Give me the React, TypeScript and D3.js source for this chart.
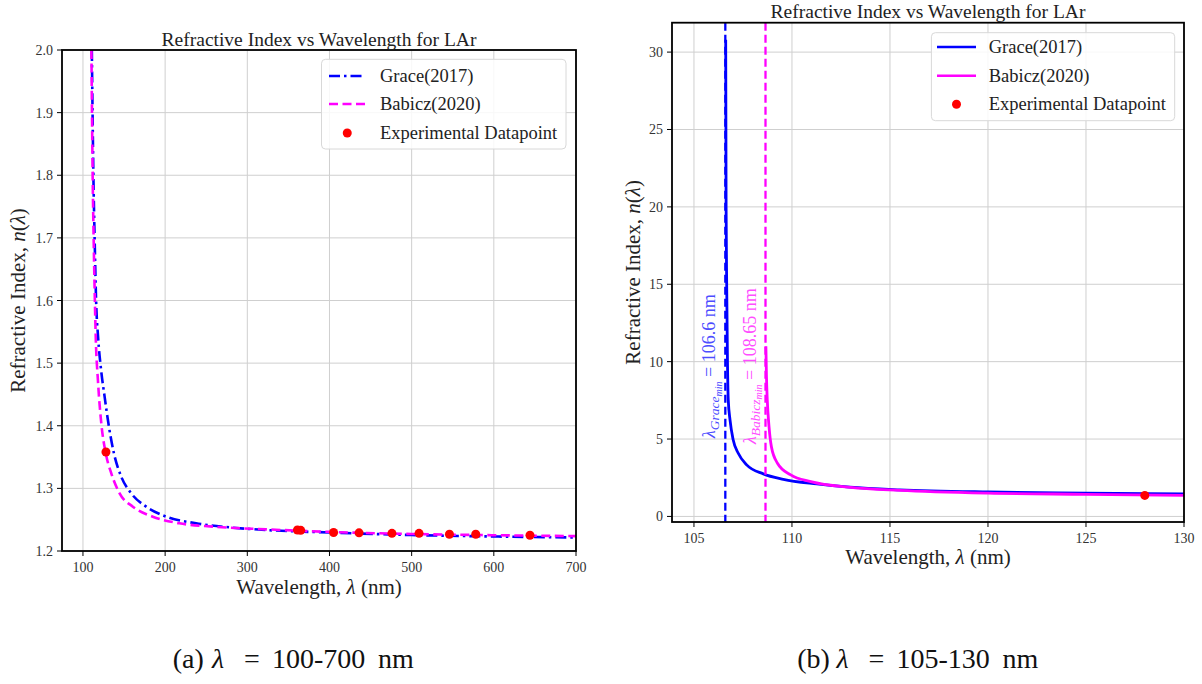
import React from 'react';
import * as d3 from 'd3';

const FONT = '"Liberation Serif", "DejaVu Serif", serif';

// ---------- Data: panel (a), 100-700 nm ----------
const graceLeftWl = [110.8, 111.7, 112.7, 114.2, 116.0, 118.5, 122.0, 126.4, 131.6, 137.7, 146.6, 158.7, 177, 201.3, 237.7, 278, 323, 400, 500, 600, 700];
const graceLeftN = [2.0, 1.9, 1.8, 1.7, 1.6, 1.54, 1.49, 1.446, 1.3985, 1.356, 1.3187, 1.2921, 1.2708, 1.2548, 1.2442, 1.2378, 1.2335, 1.2295, 1.2255, 1.2232, 1.2215];
const babiczLeftWl = [110.3, 111.0, 111.8, 113.0, 114.5, 115.6, 118.2, 122.3, 127.6, 134.5, 144.6, 160.7, 185, 217.4, 258, 323, 400, 500, 600, 700];
const babiczLeftN = [2.0, 1.9, 1.8, 1.7, 1.6, 1.54, 1.473, 1.404, 1.357, 1.324, 1.292, 1.2708, 1.2548, 1.2442, 1.2389, 1.2346, 1.2305, 1.2272, 1.2252, 1.2238];

// ---------- Data: panel (b), 105-130 nm ----------
const graceRightWl = [106.62, 106.64, 106.67, 106.71, 106.75, 106.84, 107.0, 107.26, 107.69, 108.54, 109.56, 111.26, 112.96, 115.5, 120, 125, 130];
const graceRightN = [30.8, 20, 15, 10, 7.53, 6.24, 4.95, 4.08, 3.33, 2.75, 2.40, 2.10, 1.89, 1.72, 1.58, 1.51, 1.46];
const babiczRightWl = [108.67, 108.7, 108.74, 108.83, 108.95, 109.26, 109.94, 110.96, 113, 115.5, 120, 125, 130];
const babiczRightN = [11.0, 9.0, 7.53, 5.8, 4.51, 3.44, 2.68, 2.25, 1.88, 1.68, 1.5, 1.43, 1.36];

// ---------- Experimental points ----------
const expWl = [128, 361, 365, 405, 436, 476, 509, 546, 578, 644];
const expN = [1.358, 1.2335, 1.233, 1.2295, 1.229, 1.2282, 1.2282, 1.2268, 1.2268, 1.2252];

// ---------- Pole wavelengths ----------
const graceMin = 106.6;
const babiczMin = 108.65;

// ---------- Ticks ----------
const leftXTicks = [100, 200, 300, 400, 500, 600, 700];
const leftYTicks = [1.2, 1.3, 1.4, 1.5, 1.6, 1.7, 1.8, 1.9, 2.0];
const rightXTicks = [105, 110, 115, 120, 125, 130];
const rightYTicks = [0, 5, 10, 15, 20, 25, 30];

const BLUE = '#0000ff';
const MAGENTA = '#ff00ff';

const zip = (a: number[], b: number[]) => a.map((v, i) => [v, b[i]] as [number, number]);

type PanelProps = {
  id: string;
  x: d3.ScaleLinear<number, number>;
  y: d3.ScaleLinear<number, number>;
  xTicks: number[];
  yTicks: number[];
  yFmt: (v: number) => string;
  title: string;
  titleY: number;
  yLabelX: number;
  xLabelY: number;
  children?: React.ReactNode;
};

function Panel({ id, x, y, xTicks, yTicks, yFmt, title, titleY, yLabelX, xLabelY, children }: PanelProps) {
  const [x0, x1] = x.range();
  const [y1, y0] = y.range();
  const cx = (x0 + x1) / 2;
  const cy = (y0 + y1) / 2;
  return (
    <g>
      <defs>
        <clipPath id={id}>
          <rect x={x0} y={y0} width={x1 - x0} height={y1 - y0} />
        </clipPath>
      </defs>
      {xTicks.map((t) => (
        <line key={'gx' + t} x1={x(t)} x2={x(t)} y1={y0} y2={y1} stroke="#cfcfcf" strokeWidth={1} />
      ))}
      {yTicks.map((t) => (
        <line key={'gy' + t} x1={x0} x2={x1} y1={y(t)} y2={y(t)} stroke="#cfcfcf" strokeWidth={1} />
      ))}
      <g clipPath={`url(#${id})`}>{children}</g>
      <rect x={x0} y={y0} width={x1 - x0} height={y1 - y0} fill="none" stroke="#000" strokeWidth={1.8} />
      {xTicks.map((t) => (
        <g key={'tx' + t}>
          <line x1={x(t)} x2={x(t)} y1={y1} y2={y1 + 5} stroke="#000" strokeWidth={1} />
          <text x={x(t)} y={y1 + 21} textAnchor="middle" fontSize={14} fill="#333" fontFamily={FONT}>
            {t}
          </text>
        </g>
      ))}
      {yTicks.map((t) => (
        <g key={'ty' + t}>
          <line x1={x0 - 5} x2={x0} y1={y(t)} y2={y(t)} stroke="#000" strokeWidth={1} />
          <text x={x0 - 9} y={y(t) + 5} textAnchor="end" fontSize={14} fill="#333" fontFamily={FONT}>
            {yFmt(t)}
          </text>
        </g>
      ))}
      <text x={cx} y={titleY} textAnchor="middle" fontSize={19.5} fill="#222" fontFamily={FONT}>
        {title}
      </text>
      <text x={cx} y={xLabelY} textAnchor="middle" fontSize={21} fill="#222" fontFamily={FONT}>
        Wavelength, <tspan fontStyle="italic">λ</tspan> (nm)
      </text>
      <text
        transform={`translate(${yLabelX},${cy}) rotate(-90)`}
        textAnchor="middle"
        fontSize={21}
        fill="#222"
        fontFamily={FONT}
      >
        Refractive Index, <tspan fontStyle="italic">n</tspan>(<tspan fontStyle="italic">λ</tspan>)
      </text>
    </g>
  );
}

type LegendProps = { x: number; y: number; w: number; h: number; rows: number[]; sample: [number, number]; textX: number; styles: ('dashdot' | 'dash' | 'solid')[] };

function Legend({ x, y, w, h, rows, sample, textX, styles }: LegendProps) {
  const labels = ['Grace(2017)', 'Babicz(2020)'];
  const colors = [BLUE, MAGENTA];
  const dashFor = (s: string) => (s === 'dashdot' ? '11,4,2.5,4' : s === 'dash' ? '9,4.5' : undefined);
  return (
    <g>
      <rect x={x} y={y} width={w} height={h} rx={4} fill="#fff" fillOpacity={0.85} stroke="#d8d8d8" strokeWidth={1} />
      {labels.map((lab, i) => (
        <g key={lab}>
          <line x1={sample[0]} x2={sample[1]} y1={rows[i]} y2={rows[i]} stroke={colors[i]} strokeWidth={2.6} strokeDasharray={dashFor(styles[i])} />
          <text x={textX} y={rows[i] + 6} fontSize={18.5} fill="#222" fontFamily={FONT}>
            {lab}
          </text>
        </g>
      ))}
      <circle cx={(sample[0] + sample[1]) / 2} cy={rows[2]} r={4.5} fill="#ff0000" />
      <text x={textX} y={rows[2] + 6} fontSize={18.5} fill="#222" fontFamily={FONT}>
        Experimental Datapoint
      </text>
    </g>
  );
}

function Caption({ dx, letter, range }: { dx: number; letter: string; range: string }) {
  const common = { y: 668, fontSize: 28, fill: '#111', fontFamily: FONT };
  return (
    <g>
      <text x={172.7 + dx} {...common}>({letter})</text>
      <text x={212 + dx} fontStyle="italic" {...common}>λ</text>
      <text x={244 + dx} {...common}>=</text>
      <text x={272 + dx} {...common}>{range}</text>
      <text x={378 + dx} {...common}>nm</text>
    </g>
  );
}

export default function App() {
  const xL = d3.scaleLinear().domain([74.5, 700]).range([62, 576]);
  const yL = d3.scaleLinear().domain([1.2, 2.0]).range([551, 50]);
  const xR = d3.scaleLinear().domain([103.88, 130]).range([672, 1184]);
  const yR = d3.scaleLinear().domain([-0.36, 31.9]).range([522, 22.7]);

  const lineL = d3
    .line<[number, number]>()
    .x((d) => xL(d[0]))
    .y((d) => yL(d[1]))
    .curve(d3.curveMonotoneX);
  const lineR = d3
    .line<[number, number]>()
    .x((d) => xR(d[0]))
    .y((d) => yR(d[1]))
    .curve(d3.curveMonotoneX);

  const exp = zip(expWl, expN);
  const [ryBottom, ryTop] = yR.range();

  return (
    <svg width={1202} height={684} style={{ position: 'absolute', left: 0, top: 0, background: '#fff' }}>
      <rect x={0} y={0} width={1202} height={684} fill="#fff" />
      <Panel
        id="clipL"
        x={xL}
        y={yL}
        xTicks={leftXTicks}
        yTicks={leftYTicks}
        yFmt={(v) => v.toFixed(1)}
        title="Refractive Index vs Wavelength for LAr"
        titleY={46}
        yLabelX={25}
        xLabelY={594}
      >
        <path d={lineL(zip(graceLeftWl, graceLeftN)) || ''} fill="none" stroke={BLUE} strokeWidth={2.6} strokeDasharray="11,4,2.5,4" />
        <path d={lineL(zip(babiczLeftWl, babiczLeftN)) || ''} fill="none" stroke={MAGENTA} strokeWidth={2.6} strokeDasharray="9,4.5" />
        {exp.map((d, i) => (
          <circle key={i} cx={xL(d[0])} cy={yL(d[1])} r={4.5} fill="#ff0000" />
        ))}
      </Panel>
      <Legend x={321.5} y={59.3} w={244.5} h={89.7} rows={[76, 104, 133]} sample={[329, 365.5]} textX={380} styles={['dashdot', 'dash', 'solid']} />

      <Panel
        id="clipR"
        x={xR}
        y={yR}
        xTicks={rightXTicks}
        yTicks={rightYTicks}
        yFmt={(v) => String(v)}
        title="Refractive Index vs Wavelength for LAr"
        titleY={18}
        yLabelX={640}
        xLabelY={564}
      >
        <path d={lineR(zip(graceRightWl, graceRightN)) || ''} fill="none" stroke={BLUE} strokeWidth={2.8} />
        <path d={lineR(zip(babiczRightWl, babiczRightN)) || ''} fill="none" stroke={MAGENTA} strokeWidth={2.8} />
        <line x1={xR(graceMin)} x2={xR(graceMin)} y1={ryTop} y2={ryBottom} stroke={BLUE} strokeWidth={2.3} strokeDasharray="8,4" />
        <line x1={xR(babiczMin)} x2={xR(babiczMin)} y1={ryTop} y2={ryBottom} stroke={MAGENTA} strokeWidth={2.3} strokeDasharray="8,4" />
        {exp.map((d, i) => (
          <circle key={i} cx={xR(d[0])} cy={yR(d[1])} r={4.5} fill="#ff0000" />
        ))}
        <text transform={`translate(${xR(graceMin) - 10},438) rotate(-90)`} fontSize={18} fill="rgb(77,77,255)" fontFamily={FONT}>
          <tspan fontStyle="italic">λ</tspan>
          <tspan fontStyle="italic" fontSize={13.5} dy={4}>Grace</tspan>
          <tspan fontStyle="italic" fontSize={10} dy={2.5}>min</tspan>
          <tspan dy={-6.5}> = 106.6 nm</tspan>
        </text>
        <text transform={`translate(${xR(babiczMin) - 10},444) rotate(-90)`} fontSize={18} fill="rgb(255,77,255)" fontFamily={FONT}>
          <tspan fontStyle="italic">λ</tspan>
          <tspan fontStyle="italic" fontSize={13.5} dy={4}>Babicz</tspan>
          <tspan fontStyle="italic" fontSize={10} dy={2.5}>min</tspan>
          <tspan dy={-6.5}> = 108.65 nm</tspan>
        </text>
      </Panel>
      <Legend x={931.4} y={32.7} w={243.3} h={88} rows={[47, 75.7, 104.3]} sample={[937, 976]} textX={988.7} styles={['solid', 'solid', 'solid']} />

      <Caption dx={0} letter="a" range="100-700" />
      <Caption dx={624.5} letter="b" range="105-130" />
    </svg>
  );
}
